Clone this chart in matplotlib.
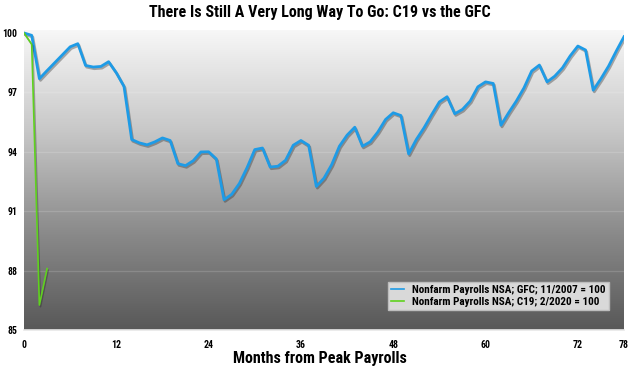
import matplotlib
matplotlib.use("Agg")
import matplotlib.pyplot as plt
import matplotlib.patheffects as pe
import numpy as np
from matplotlib.colors import LinearSegmentedColormap

plt.rcParams['font.family'] = ['Roboto Condensed', 'DejaVu Sans']

months_gfc = list(range(0, 79))
gfc = [100.0, 99.88, 97.69, 98.1, 98.5, 98.9, 99.3, 99.46, 98.36, 98.28,
       98.31, 98.55, 97.99, 97.3, 94.62, 94.45, 94.35, 94.5, 94.7, 94.57,
       93.4, 93.3, 93.55, 93.99, 94.0, 93.64, 91.58, 91.85, 92.4, 93.2,
       94.11, 94.19, 93.23, 93.27, 93.57, 94.33, 94.57, 94.33, 92.25, 92.67,
       93.35, 94.28, 94.84, 95.24, 94.28, 94.5, 95.0, 95.63, 95.97, 95.83,
       93.89, 94.62, 95.21, 95.88, 96.52, 96.78, 95.92, 96.14, 96.56, 97.28,
       97.53, 97.45, 95.34, 95.97, 96.56, 97.23, 98.08, 98.38, 97.53, 97.82,
       98.24, 98.84, 99.34, 99.14, 97.11, 97.69, 98.33, 99.09, 99.81]
months_c19 = [0, 1, 2, 3]
c19 = [100.0, 99.43, 86.26, 88.1]

xticks = [0, 12, 24, 36, 48, 60, 72, 78]
yticks = [85, 88, 91, 94, 97, 100]

label_gfc = 'Nonfarm Payrolls NSA; GFC; 11/2007 = 100'
label_c19 = 'Nonfarm Payrolls NSA; C19; 2/2020 = 100'
title = 'There Is Still A Very Long Way To Go: C19 vs the GFC'
xlabel = 'Months from Peak Payrolls'

fig = plt.figure(figsize=(6.4, 3.75), dpi=100)
ax = fig.add_axes([24/640, 1-330/375, 600/640, 300/375])

grad = np.linspace(0, 1, 256).reshape(-1, 1)
cmap = LinearSegmentedColormap.from_list('bg', ['#f7f7f7', '#c8c8c8', '#8c8c8c', '#585858'])
ax.imshow(grad, aspect='auto', cmap=cmap, extent=[0, 1, 0, 1], transform=ax.transAxes, zorder=0)

for y in [88, 91, 94, 97]:
    ax.axhline(y, color='#ffffff', alpha=0.15, lw=1.0, zorder=1)

shadow = [pe.SimpleLineShadow(offset=(0.8, -1.2), shadow_color='#222222', alpha=0.35), pe.Normal()]
ax.plot(months_gfc, gfc, color='#1e9be6', lw=2.0, label=label_gfc, zorder=3, path_effects=shadow)
ax.plot(months_c19, c19, color='#5fd21e', lw=1.2, label=label_c19, zorder=4, path_effects=shadow)

ax.set_xlim(0, 78)
ax.set_ylim(85, 100.15)
ax.set_xticks(xticks)
ax.set_yticks(yticks)
ax.tick_params(axis='y', length=0, labelsize=7, pad=5)
ax.tick_params(axis='x', length=0, labelsize=7, pad=7)
for lbl in ax.get_xticklabels() + ax.get_yticklabels():
    lbl.set_fontweight('bold')
for s in ['top', 'right', 'left']:
    ax.spines[s].set_visible(False)
ax.spines['bottom'].set_color('#e8e8e8')
ax.spines['bottom'].set_linewidth(1.2)

fig.text(0.5, 1-12/375, title, ha='center', va='center', fontsize=11.5, fontweight='bold')
fig.text(0.5, 1-358/375, xlabel, ha='center', va='center', fontsize=11.5, fontweight='bold')

leg = ax.legend(loc='lower right', bbox_to_anchor=(0.975, 0.067), borderaxespad=0, fontsize=8, frameon=True,
                fancybox=False, handlelength=1.2, borderpad=0.3, labelspacing=0.15, handletextpad=0.7)
leg.get_frame().set_facecolor('#d9d9d9')
leg.get_frame().set_edgecolor('#bdbdbd')
leg.get_frame().set_alpha(1)
for line in leg.get_lines():
    line.set_path_effects([])
    line.set_linewidth(1.2)
for t in leg.get_texts():
    t.set_fontweight('bold')

fig.savefig('out.png', dpi=100)
